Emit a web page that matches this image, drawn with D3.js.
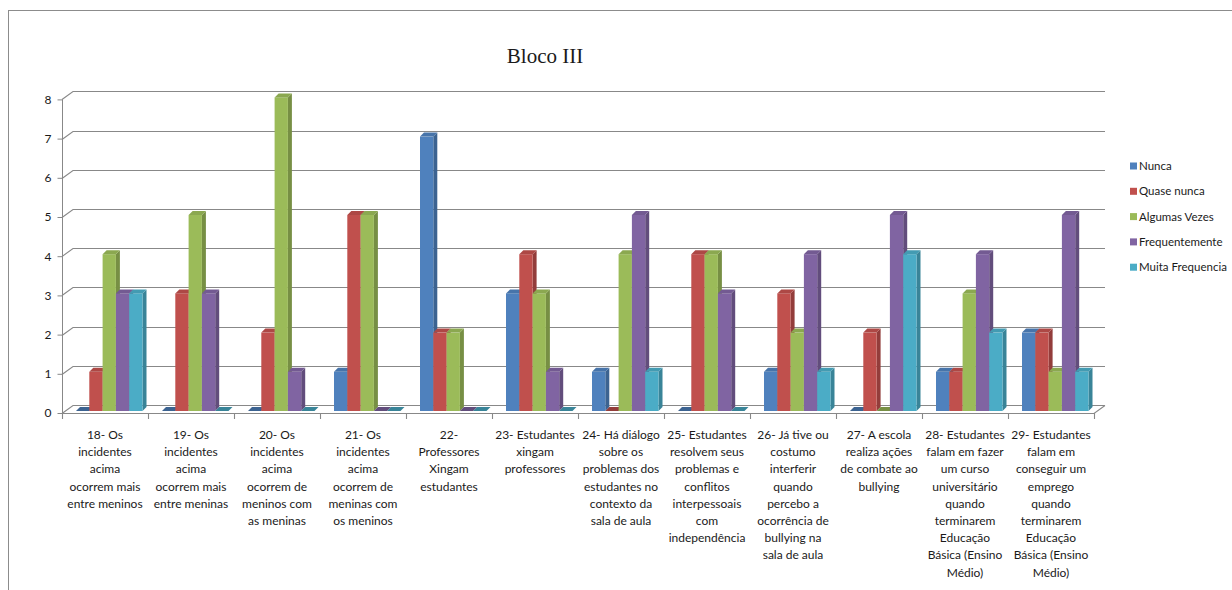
<!DOCTYPE html>
<html><head><meta charset="utf-8">
<script src="https://cdn.jsdelivr.net/npm/d3@7"></script>
<style>html,body{margin:0;padding:0;background:#fff;} svg{display:block;}</style>
</head><body>
<svg id="chart" width="1232" height="590"></svg>
<script>
const title = "Bloco III";
const categories = [
  "18- Os\nincidentes\nacima\nocorrem mais\nentre meninos",
  "19- Os\nincidentes\nacima\nocorrem mais\nentre meninas",
  "20- Os\nincidentes\nacima\nocorrem de\nmeninos com\nas meninas",
  "21- Os\nincidentes\nacima\nocorrem de\nmeninas com\nos meninos",
  "22-\nProfessores\nXingam\nestudantes",
  "23- Estudantes\nxingam\nprofessores",
  "24- Há diálogo\nsobre os\nproblemas dos\nestudantes no\ncontexto da\nsala de aula",
  "25- Estudantes\nresolvem seus\nproblemas e\nconflitos\ninterpessoais\ncom\nindependência",
  "26- Já tive ou\ncostumo\ninterferir\nquando\npercebo a\nocorrência de\nbullying na\nsala de aula",
  "27- A escola\nrealiza ações\nde combate ao\nbullying",
  "28- Estudantes\nfalam em fazer\num curso\nuniversitário\nquando\nterminarem\nEducação\nBásica (Ensino\nMédio)",
  "29- Estudantes\nfalam em\nconseguir um\nemprego\nquando\nterminarem\nEducação\nBásica (Ensino\nMédio)"
];
const seriesNames = ["Nunca", "Quase nunca", "Algumas Vezes", "Frequentemente", "Muita Frequencia"];
const seriesColors = ["#4F81BD", "#C0504D", "#9BBB59", "#8064A2", "#4BACC6"];
const nunca          = [0, 0, 0, 1, 7, 3, 1, 0, 1, 0, 1, 2];
const quaseNunca     = [1, 3, 2, 5, 2, 4, 0, 4, 3, 2, 1, 2];
const algumasVezes   = [4, 5, 8, 5, 2, 3, 4, 4, 2, 0, 3, 1];
const frequentemente = [3, 3, 1, 0, 0, 1, 5, 3, 4, 5, 4, 5];
const muitaFrequencia= [3, 0, 0, 0, 0, 0, 1, 0, 1, 4, 2, 1];
const seriesValues = [nunca, quaseNunca, algumasVezes, frequentemente, muitaFrequencia];
const yTicks = [0, 1, 2, 3, 4, 5, 6, 7, 8];

const svg = d3.select("#chart");
const FONT = "Lato, 'Open Sans', sans-serif";

// outer frame
svg.append("rect").attr("x", 8.5).attr("y", 10.5).attr("width", 1240).attr("height", 600)
  .attr("fill", "#fff").attr("stroke", "#8c8c8c").attr("stroke-width", 1);

// title
svg.append("text").attr("x", 545).attr("y", 63).attr("text-anchor", "middle")
  .attr("font-family", "'Liberation Serif', 'Times New Roman', serif").attr("font-size", 21)
  .attr("fill", "#1a1a1a").text(title);

const x0 = d3.scaleBand().domain(d3.range(categories.length)).range([62, 1094]);
const x1 = d3.scaleBand().domain(seriesNames).range([14, 80.5]);
const y = d3.scaleLinear().domain([0, 8]).range([413, 99.4]);
const WDX = 11, WDY = 8;   // wall depth
const BDX = 4, BDY = 4;    // bar depth
const baseShift = 2;

// gridlines (back wall + left wall diagonals)
const grid = svg.append("g").attr("fill", "none").attr("stroke", "#888").attr("stroke-width", 1.1);
yTicks.forEach(t => {
  const yy = Math.round(y(t)) + 0.5;
  grid.append("path").attr("d", `M62,${yy} L${62 + WDX},${yy - WDY} L${1094 + WDX},${yy - WDY}`);
});
// floor front edge + right edge
grid.append("path").attr("d", `M62,${Math.round(y(0)) + 0.5} L1094,${Math.round(y(0)) + 0.5} L${1094 + WDX},${Math.round(y(0)) + 0.5 - WDY}`);
// category ticks
d3.range(categories.length + 1).forEach(i => {
  const xx = Math.round(i < categories.length ? x0(i) : x0(i - 1) + x0.bandwidth()) + 0.5;
  grid.append("line").attr("x1", xx).attr("x2", xx).attr("y1", y(0)).attr("y2", y(0) + 6);
});

// y axis
const yAxis = svg.append("g").attr("transform", "translate(62.5,0)")
  .call(d3.axisLeft(y).tickValues(yTicks).tickSize(5).tickPadding(6).tickFormat(d3.format("d")));
yAxis.select(".domain").attr("stroke", "#888").attr("d", `M0,${y(8)}V${y(0)}`);
yAxis.selectAll(".tick line").attr("stroke", "#888");
yAxis.selectAll(".tick text").attr("font-family", FONT).attr("font-size", 12).attr("fill", "#1a1a1a");

// bars
const bars = svg.append("g");
categories.forEach((c, i) => {
  seriesNames.forEach((s, k) => {
    const v = seriesValues[k][i];
    const col = d3.color(seriesColors[k]);
    const x = x0(i) + x1(s);
    const w = x1.bandwidth();
    const base = y(0) - baseShift;
    const top = y(v) - baseShift;
    const sideCol = col.darker(0.75).formatHex();
    const topCol = col.darker(0.3).formatHex();
    if (v > 0) {
      bars.append("polygon")
        .attr("points", `${x + w},${top} ${x + w + BDX},${top - BDY} ${x + w + BDX},${base - BDY} ${x + w},${base}`)
        .attr("fill", sideCol);
      bars.append("rect").attr("x", x).attr("y", top).attr("width", w).attr("height", base - top)
        .attr("fill", col.formatHex());
    }
    bars.append("polygon")
      .attr("points", `${x},${top} ${x + w},${top} ${x + w + BDX},${top - BDY} ${x + BDX},${top - BDY}`)
      .attr("fill", v > 0 ? topCol : sideCol);
  });
});

// category labels
const lab = svg.append("g").attr("font-family", FONT).attr("font-size", 12).attr("fill", "#1a1a1a")
  .attr("text-anchor", "middle");
categories.forEach((c, i) => {
  const cx = x0(i) + x0.bandwidth() / 2;
  const t = lab.append("text").attr("x", cx).attr("y", 439);
  c.split("\n").forEach((line, j) => {
    t.append("tspan").attr("x", cx).attr("y", 439 + j * 17.2).text(line);
  });
});

// legend
const leg = svg.append("g").attr("font-family", FONT).attr("font-size", 11.5).attr("fill", "#1a1a1a");
seriesNames.forEach((s, k) => {
  const cy = 166 + k * 25.3;
  leg.append("rect").attr("x", 1130).attr("y", cy - 3.5).attr("width", 7).attr("height", 7)
    .attr("fill", seriesColors[k]);
  leg.append("text").attr("x", 1139).attr("y", cy + 4).text(s);
});
</script>
</body></html>
